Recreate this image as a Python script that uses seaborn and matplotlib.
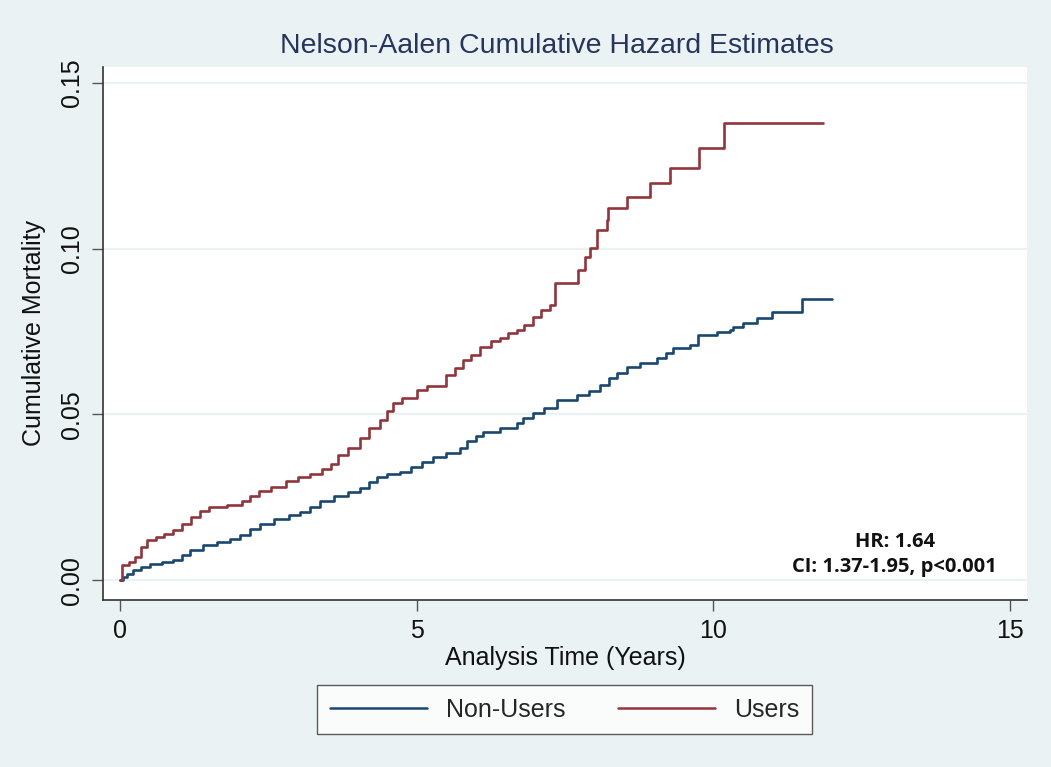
import matplotlib
matplotlib.use("Agg")
import matplotlib.pyplot as plt
import seaborn as sns
import pandas as pd
import numpy as np

# ---- data ----
users_time = [0, 0.03, 0.15, 0.25, 0.35, 0.45, 0.6, 0.75, 0.9, 1.05, 1.2, 1.35, 1.5, 1.8,
              2.05, 2.2, 2.35, 2.55, 2.8, 3.0, 3.2, 3.4, 3.55, 3.68, 3.85, 4.05, 4.2, 4.38,
              4.5, 4.6, 4.75, 5.0, 5.18, 5.5, 5.65, 5.78, 5.92, 6.07, 6.25, 6.4, 6.55, 6.7,
              6.82, 6.97, 7.1, 7.25, 7.34, 7.72, 7.84, 7.93, 8.04, 8.21, 8.23, 8.55, 8.94,
              9.27, 9.77, 10.19, 11.86]
users_haz = [0, 0.0045, 0.0055, 0.007, 0.010, 0.012, 0.013, 0.014, 0.015, 0.017, 0.019, 0.021,
             0.0222, 0.0226, 0.024, 0.0255, 0.027, 0.028, 0.030, 0.031, 0.032, 0.0335, 0.035,
             0.0377, 0.040, 0.0428, 0.046, 0.0483, 0.051, 0.0534, 0.055, 0.0573, 0.0585, 0.0619,
             0.064, 0.0664, 0.068, 0.0703, 0.072, 0.073, 0.0745, 0.0754, 0.077, 0.0795, 0.0815,
             0.083, 0.0896, 0.0935, 0.0975, 0.1002, 0.1056, 0.1086, 0.1122, 0.1155, 0.1198,
             0.1243, 0.1304, 0.1379, 0.1379]

nonusers_time = [0, 0.05, 0.12, 0.22, 0.35, 0.5, 0.7, 0.9, 1.05, 1.18, 1.4, 1.63, 1.85, 2.02,
                 2.2, 2.36, 2.6, 2.85, 3.03, 3.2, 3.37, 3.6, 3.85, 4.05, 4.2, 4.33, 4.5, 4.72,
                 4.9, 5.1, 5.28, 5.5, 5.73, 5.85, 6.0, 6.12, 6.4, 6.69, 6.8, 6.97, 7.15, 7.37,
                 7.71, 7.9, 8.09, 8.25, 8.38, 8.55, 8.77, 9.05, 9.2, 9.33, 9.61, 9.75, 10.07,
                 10.29, 10.34, 10.51, 10.74, 10.99, 11.5, 12.0]
nonusers_haz = [0, 0.001, 0.002, 0.003, 0.004, 0.005, 0.0055, 0.006, 0.0075, 0.009, 0.0105,
                0.0115, 0.0125, 0.0136, 0.0155, 0.017, 0.0185, 0.0195, 0.0205, 0.022, 0.024,
                0.0255, 0.0265, 0.0277, 0.0295, 0.031, 0.032, 0.0326, 0.034, 0.0355, 0.037,
                0.0385, 0.040, 0.042, 0.0435, 0.0447, 0.046, 0.0473, 0.049, 0.0503, 0.052,
                0.0543, 0.0558, 0.057, 0.0588, 0.061, 0.0624, 0.0643, 0.0655, 0.067, 0.0685,
                0.070, 0.0709, 0.074, 0.0748, 0.0754, 0.0763, 0.0775, 0.079, 0.0809, 0.0848,
                0.0848]

groups = ["Non-Users", "Users"]
x_ticks = [0, 5, 10, 15]
y_ticks = [0.00, 0.05, 0.10, 0.15]
y_ticklabels = ["0.00", "0.05", "0.10", "0.15"]
title = "Nelson-Aalen Cumulative Hazard Estimates"
xlabel = "Analysis Time (Years)"
ylabel = "Cumulative Mortality"
annot = "HR: 1.64\nCI: 1.37-1.95, p<0.001"

df = pd.concat([
    pd.DataFrame({"time": nonusers_time, "cumhaz": nonusers_haz, "group": groups[0]}),
    pd.DataFrame({"time": users_time, "cumhaz": users_haz, "group": groups[1]}),
])

# ---- style ----
sns.set_theme(style="white")
plt.rcParams["font.family"] = ["Liberation Sans", "DejaVu Sans"]

BG = "#EAF2F3"
palette = {"Non-Users": "#1A476F", "Users": "#90353B"}

fig = plt.figure(figsize=(10.51, 7.67), dpi=100, facecolor=BG)
ax = fig.add_axes([0.098, 0.2177, 0.879, 0.695])
ax.set_facecolor("white")

sns.lineplot(data=df, x="time", y="cumhaz", hue="group", palette=palette,
             estimator=None, drawstyle="steps-post", linewidth=1.9, ax=ax, legend=False)

ax.set_xlim(-0.287, 15.29)
ax.set_ylim(-0.006, 0.1548)
ax.set_xticks(x_ticks)
ax.set_xticklabels([str(t) for t in x_ticks], fontsize=18)
ax.set_yticks(y_ticks)
ax.set_yticklabels(y_ticklabels, fontsize=18, rotation=90, va="center")

for y in y_ticks:
    ax.axhline(y, color=BG, lw=1.6, zorder=0)

for s in ["top", "right"]:
    ax.spines[s].set_visible(False)
for s in ["left", "bottom"]:
    ax.spines[s].set_color("#333333")
    ax.spines[s].set_linewidth(1.2)
ax.tick_params(axis="both", which="major", direction="out", length=8, width=1.0,
               color="#555555", labelcolor="#111111", pad=6, left=True, bottom=True)

ax.set_xlabel(xlabel, fontsize=18, color="#111111", labelpad=2)
ax.set_ylabel(ylabel, fontsize=18, color="#111111", labelpad=10)

fig.text(0.53, 0.94, title, ha="center", va="center", fontsize=20.5, color="#26345E",
         family=["Liberation Sans Narrow", "Liberation Sans", "DejaVu Sans"])

ax.text(0.857, 0.043, annot, transform=ax.transAxes, ha="center", va="bottom",
        fontsize=14.5, fontweight="bold", color="#111111", linespacing=1.35,
        multialignment="center", family=["Open Sans", "DejaVu Sans"])

handles = ax.get_lines()[:2]
leg = fig.legend(handles, groups, loc="center", bbox_to_anchor=(0.5370, 0.0745),
                 ncol=2, fontsize=18, frameon=True, fancybox=False, handlelength=3.9,
                 handletextpad=0.75, columnspacing=2.1, borderpad=0.5, borderaxespad=0,
                 edgecolor="#333333")
leg.get_frame().set_linewidth(1.0)
leg.get_frame().set_facecolor("white")
for l in leg.get_lines():
    l.set_linewidth(1.8)

fig.savefig("out.png", dpi=100, facecolor=BG)
